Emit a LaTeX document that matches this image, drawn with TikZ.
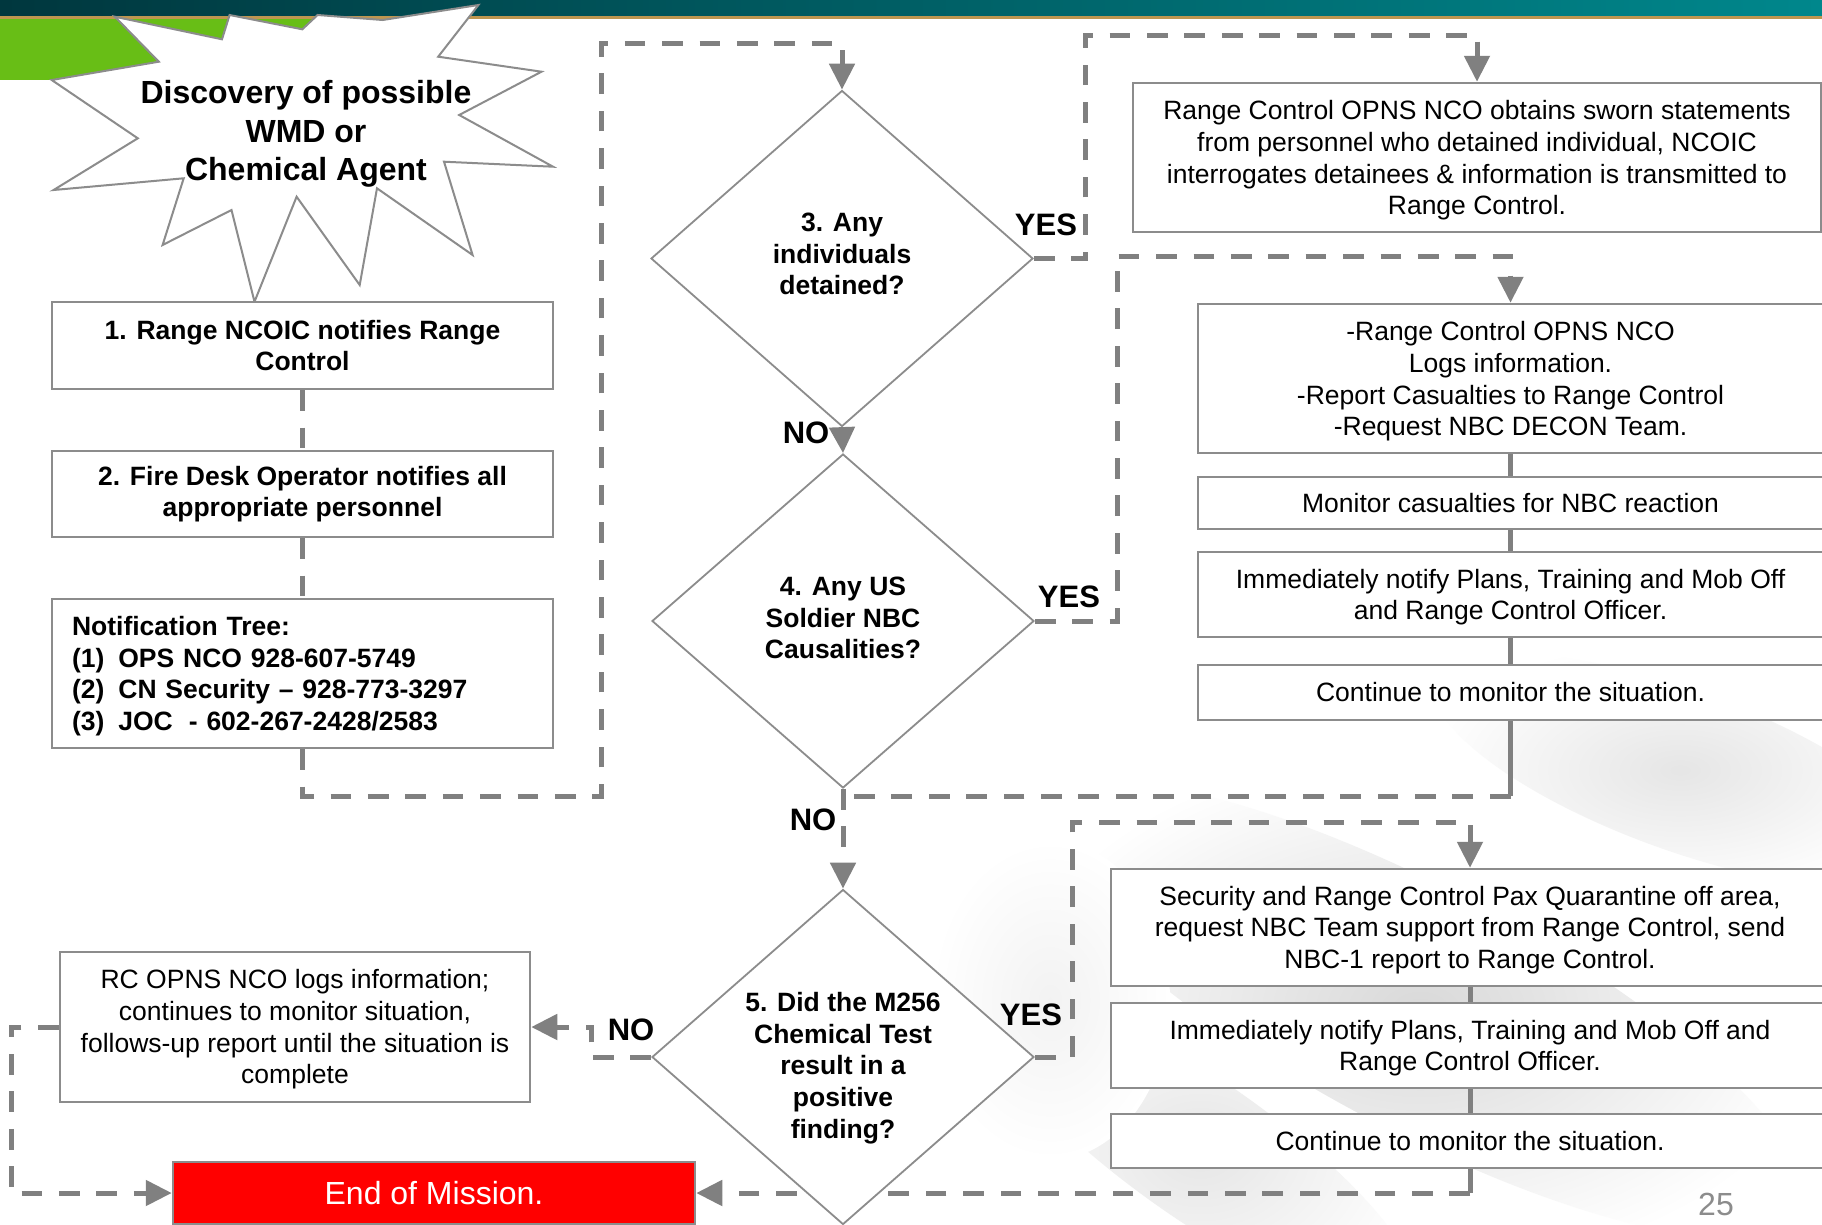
\documentclass[tikz,border=0pt]{standalone}
\usepackage{fontspec}
\setmainfont{Liberation Sans}
\usetikzlibrary{shapes.geometric,arrows.meta}
\definecolor{linegray}{RGB}{128,128,128}
\definecolor{bordergray}{RGB}{140,140,140}
\definecolor{barL}{RGB}{0,55,62}
\definecolor{barR}{RGB}{0,135,140}
\definecolor{goldline}{RGB}{190,150,80}
\definecolor{leaf}{RGB}{104,190,22}
\newcommand\myreg{\fontsize{26.5}{31.7}\selectfont}
\newcommand\mybld{\fontsize{26.5}{31.7}\selectfont\bfseries}
\newcommand\mylab{\fontsize{31}{36}\selectfont\bfseries}
\newcommand\mybig{\fontsize{32}{38.3}\selectfont\bfseries}
\pgfdeclarelayer{back}
\pgfdeclarelayer{conn}
\pgfsetlayers{back,conn,main}
\begin{document}
\begin{tikzpicture}[x=1pt,y=-1pt,
  box/.style={draw=bordergray, line width=2.5pt, fill=white, inner sep=0pt, align=center, font=\myreg},
  bbox/.style={box, font=\mybld},
  dia/.style={diamond, draw=bordergray, line width=1.8pt, fill=white, inner sep=0pt, minimum width=382pt, minimum height=336pt},
  dtext/.style={align=center, font=\mybld, inner sep=0pt},
  btext/.style={align=center, font=\myreg, inner sep=0pt},
  dl/.style={draw=linegray, line width=5pt, dash pattern=on 20.7pt off 16.7pt},
  sl/.style={draw=linegray, line width=5pt},
  arr/.style={-{Triangle[length=26pt,width=25pt]}},
  lab/.style={font=\mylab, inner sep=0pt},
]
\useasboundingbox (0,0) rectangle (1822,1224);
\clip (0,0) rectangle (1822,1224);

% ---------- background ----------
\begin{pgfonlayer}{back}
\fill[white] (0,0) rectangle (1822,1224);
\shade[inner color=black!15, outer color=white, rotate around={-28:(1420,1010)}] (1420,1010) ellipse [x radius=430pt, y radius=120pt];
\shade[inner color=black!10, outer color=white, rotate around={-20:(1680,770)}] (1680,770) ellipse [x radius=260pt, y radius=80pt];
\shade[inner color=black!10, outer color=white, rotate around={-35:(1200,1150)}] (1200,1150) ellipse [x radius=260pt, y radius=70pt];
\shade[inner color=black!5, outer color=white] (1050,1000) ellipse [x radius=120pt, y radius=160pt];
\shade[left color=barL, right color=barR] (0,0) rectangle (1822,16);
\fill[goldline] (0,16) rectangle (1822,19);
\fill[leaf] (0,19) rectangle (330,80);
\filldraw[fill=white, draw=bordergray, line width=2pt, line join=miter]
  (51.7,80) -- (158.8,61.7) -- (114.8,16.7) -- (222,39.3) -- (229.6,15) -- (302.3,29.3)
  -- (317.6,15) -- (382.7,20) -- (478.4,5) -- (438.2,56.7) -- (541.5,71.7) -- (459.2,115)
  -- (553,166.7) -- (444,161.7) -- (472.6,255) -- (377,188.3) -- (359.7,285) -- (296.6,196.7)
  -- (254.5,301.7) -- (231.5,210) -- (162.6,245) -- (183.7,178.3) -- (53.6,190) -- (137.8,138.3) -- cycle;
\end{pgfonlayer}
\node[align=center, font=\mybig, inner sep=0pt] (disc) at (306,134) {Discovery of possible\\WMD or\\Chemical Agent};

% ---------- left column ----------
\node[bbox, minimum width=501pt, minimum height=87pt] (b1) at (302.5,345.5) {1. Range NCOIC notifies Range\\Control};
\node[bbox, minimum width=501pt, minimum height=86pt] (b2) at (302.5,494) {2. Fire Desk Operator notifies all\\appropriate personnel};
\node[bbox, minimum width=501pt, minimum height=149pt] (tree) at (302.5,673.5) {};
\node[inner sep=0pt, font=\mybld, text width=461pt, align=left] (treet) at (302.5,676)
  {Notification Tree:\\(1)\hspace*{14pt}OPS NCO 928-607-5749\\(2)\hspace*{14pt}CN Security – 928-773-3297\\(3)\hspace*{14pt}JOC\hspace*{16pt}- 602-267-2428/2583};

% ---------- diamonds ----------
\node[dia] (d3) at (842,258.5) {};
\node[dtext] (d3t) at (842,254) {3. Any\\individuals\\detained?};
\node[dia, minimum height=334pt] (d4) at (843,621) {};
\node[dtext] (d4t) at (843,618) {4. Any US\\Soldier NBC\\Causalities?};
\node[dia, minimum height=335pt] (d5) at (843,1057) {};
\node[dtext] (d5t) at (843,1068) {5. Did the M256\\Chemical Test\\result in a\\positive\\finding?};

% ---------- right boxes ----------
\node[box, minimum width=688pt, minimum height=149pt] (bA) at (1477,157.5) {};
\node[btext] (bAt) at (1477,160.5) {Range Control OPNS NCO obtains sworn statements\\from personnel who detained individual, NCOIC\\interrogates detainees \& information is transmitted to\\Range Control.};
\node[box, minimum width=625pt, minimum height=149pt] (bB) at (1510.5,378.5) {};
\node[btext] (bBt) at (1510.5,381.5) {-Range Control OPNS NCO\\Logs information.\\-Report Casualties to Range Control\\-Request NBC DECON Team.};
\node[box, minimum width=625pt, minimum height=52pt] (bC) at (1510.5,503) {Monitor casualties for NBC reaction};
\node[box, minimum width=625pt, minimum height=85pt] (bD) at (1510.5,594.5) {};
\node[btext] (bDt) at (1510.5,597) {Immediately notify Plans, Training and Mob Off\\and Range Control Officer.};
\node[box, minimum width=625pt, minimum height=55pt] (bE) at (1510.5,692.5) {Continue to monitor the situation.};

\node[box, minimum width=718pt, minimum height=117pt] (g1) at (1470,927.5) {};
\node[btext] (g1t) at (1470,930) {Security and Range Control Pax Quarantine off area,\\request NBC Team support from Range Control, send\\NBC-1 report to Range Control.};
\node[box, minimum width=718pt, minimum height=85pt] (g2) at (1470,1045.5) {};
\node[btext] (g2t) at (1470,1048) {Immediately notify Plans, Training and Mob Off and\\Range Control Officer.};
\node[box, minimum width=718pt, minimum height=54pt] (g3) at (1470,1141) {Continue to monitor the situation.};

\node[box, minimum width=470pt, minimum height=150pt] (bF) at (295,1027) {};
\node[btext] (bFt) at (295,1029.5) {RC OPNS NCO logs information;\\continues to monitor situation,\\follows-up report until the situation is\\complete};
\node[box, fill=red, text=white, minimum width=522pt, minimum height=62pt, font=\fontsize{32}{38}\selectfont] (endm) at (434,1193) {End of Mission.};

% ---------- labels ----------
\node[lab] (yes3) at (1046,225) {YES};
\node[lab] (yes4) at (1069,597) {YES};
\node[lab] (yes5) at (1031,1015) {YES};
\node[lab] (no3) at (806,433) {NO};
\node[lab] (no4) at (813,820) {NO};
\node[lab] (no5) at (631,1030) {NO};
\node[font=\fontsize{32}{38}\selectfont, text=black!45, inner sep=0pt] (pg) at (1716,1204) {25};

% ---------- connectors ----------
\coordinate (j1) at (843,796);
\begin{pgfonlayer}{conn}
\draw[dl] (b1.south) -- (b2.north);
\draw[dl] (b2.south) -- (tree.north);
\draw[dl,arr] (tree.south) -- (302.5,796) -| (601,43) -| (d3.north);
\draw[sl,arr] (d3.south) -- (d4.north);
\draw[dl,arr] (d4.south) -- (d5.north);
\draw[dl,arr] (d3.east) -| (1085,35) -| (bA.north);
\draw[dl,arr] (d4.east) -| (1117,256) -| (bB.north);
\draw[sl] (bB.south) -- (bC.north);
\draw[sl] (bC.south) -- (bD.north);
\draw[sl] (bD.south) -- (bE.north);
\draw[sl] (bE.south) -- (1510.5,796);
\draw[dl] (1510.5,796) -- (j1);
\draw[dl,arr] (d5.east) -| (1072,822) -| (g1.north);
\draw[sl] (g1.south) -- (g2.north);
\draw[sl] (g2.south) -- (g3.north);
\draw[sl] (g3.south) -- (1470,1193);
\draw[dl,arr] (1470,1193) -- (endm.east);
\draw[dl,arr] (d5.west) -| (591,1027) -- (bF.east);
\draw[dl,arr] (bF.west) -| (11,1193) -- (endm.west);
\end{pgfonlayer}
\end{tikzpicture}
\end{document}
